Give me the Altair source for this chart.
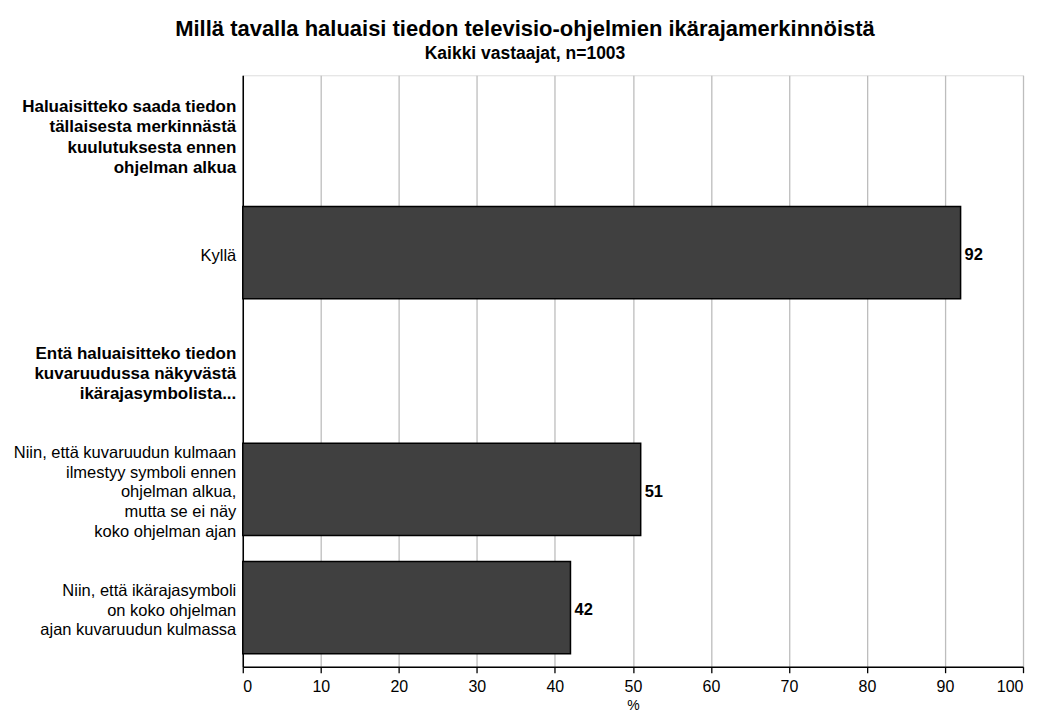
import altair as alt
import pandas as pd

NBSP = "\u00a0"

# Rows of the chart (top to bottom)
row_keys = ["q1", "q1_yes", "q2", "q2_a", "q2_b"]
row_labels = [
    "Haluaisitteko saada tiedon" + NBSP + "|tällaisesta merkinnästä" + NBSP + "|kuulutuksesta ennen" + NBSP + "|ohjelman alkua" + NBSP,
    "Kyllä" + NBSP,
    "Entä haluaisitteko tiedon" + NBSP + "|kuvaruudussa näkyvästä" + NBSP + "|ikärajasymbolista..." + NBSP,
    "Niin, että kuvaruudun kulmaan|ilmestyy symboli ennen" + NBSP + "|ohjelman alkua," + NBSP + "|mutta se ei näy" + NBSP + "|koko ohjelman ajan" + NBSP,
    "Niin, että ikärajasymboli" + NBSP + "|on koko ohjelman" + NBSP + "|ajan kuvaruudun kulmassa",
]
is_header = [True, False, True, False, False]
values = [None, 92, None, 51, 42]
x_ticks = [0, 10, 20, 30, 40, 50, 60, 70, 80, 90, 100]

df = pd.DataFrame({
    "row": row_keys,
    "label": row_labels,
    "header": is_header,
    "value": values,
})
df["nlines"] = df["label"].str.count(r"\|") + 1

FONT = "Liberation Sans"

y_enc = alt.Y(
    "row:N",
    sort=row_keys,
    scale=alt.Scale(domain=row_keys, paddingInner=0.22, paddingOuter=0.11),
    axis=alt.Axis(labels=False, ticks=False, title=None, grid=False,
                  domain=True, domainColor="#000000", domainWidth=1.5),
)
x_enc = alt.X(
    "value:Q",
    scale=alt.Scale(domain=[0, 100], nice=False),
    axis=alt.Axis(values=x_ticks, title="%", grid=True, gridColor="#bdbdbd", gridWidth=1.3,
                  domainColor="#000000", domainWidth=1.5, tickColor="#000000",
                  tickWidth=1.3, tickSize=6, labelFontSize=16, labelColor="#000000",
                  labelFont=FONT, labelPadding=6, titleFont=FONT, titleFontSize=14,
                  titleFontWeight="normal", titleColor="#000000", titlePadding=4),
)

base = alt.Chart(df)

bars = base.transform_filter("isValid(datum.value)").mark_bar(
    color="#404040", stroke="#000000", strokeWidth=1.5
).encode(x=x_enc, y=y_enc)

values_text = base.transform_filter("isValid(datum.value)").mark_text(
    align="left", baseline="middle", dx=4, dy=2.5, fontSize=16.5, fontWeight="bold",
    font=FONT, color="#000000"
).encode(x="value:Q", y=alt.Y("row:N", sort=row_keys), text="value:Q")

label_layers = []
for hdr in (True, False):
    lh = 20.3 if hdr else 19.7
    for n in sorted(set(df.loc[df["header"] == hdr, "nlines"])):
        cond = ("datum.header" if hdr else "!datum.header") + f" && datum.nlines == {n}"
        label_layers.append(
            base.transform_filter(cond).mark_text(
                align="right", baseline="middle",
                fontSize=17 if hdr else 16.5,
                fontWeight="bold" if hdr else "normal",
                font=FONT, color="#000000", lineBreak="|", lineHeight=lh,
                dy=-(n - 1) * lh / 2 + 3,
            ).encode(x=alt.value(-6.5), y=alt.Y("row:N", sort=row_keys), text="label:N")
        )

chart = alt.layer(bars, values_text, *label_layers).properties(
    width=781,
    height=592,
    title=alt.Title(
        text="Millä tavalla haluaisi tiedon televisio-ohjelmien ikärajamerkinnöistä",
        subtitle="Kaikki vastaajat, n=1003",
        font=FONT, fontSize=22, fontWeight="bold", color="#000000",
        subtitleFont=FONT, subtitleFontSize=17.5, subtitleFontWeight="bold",
        subtitleColor="#000000", subtitlePadding=4, anchor="middle", offset=12,
        dx=-108,
    ),
    autosize=alt.AutoSizeParams(type="none"),
    padding={"left": 235, "top": 67, "right": 10, "bottom": 49},
).configure_view(
    stroke="#5a5a5a", strokeWidth=2
).configure(background="#ffffff")

chart.save("out.html", embed_options={"renderer": "svg", "actions": False})
